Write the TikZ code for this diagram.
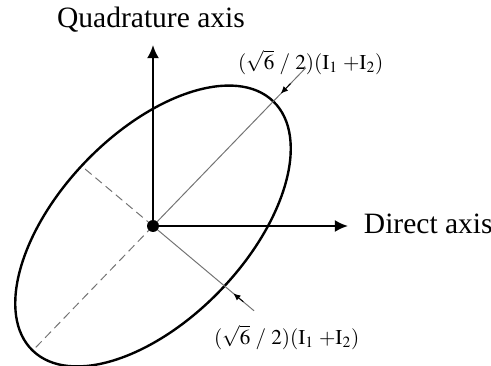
\documentclass[tikz,border=0pt]{standalone}
\usepackage{mathptmx}
\usepackage{fontspec}
\setmainfont{Liberation Serif}
\usetikzlibrary{arrows.meta}

\begin{document}
\begin{tikzpicture}[
        axis/.style={-{Latex[length=3.3mm,width=3mm]},line width=1.4pt},
        guide/.style={black!55,line width=0.7pt},
        hidden/.style={guide,dash pattern=on 6pt off 3.5pt},
        tick/.style={-{Latex[length=1.8mm,width=1.6mm]},line width=0.7pt},
        big/.style={font=\fontsize{21}{24}\selectfont},
        small/.style={font=\fontsize{15}{17}\selectfont}]
        \useasboundingbox (-3.825,-3.475) rectangle (8.45,5.65);
        \coordinate (O) at (0,0);
        \coordinate (Q) at (0,4.525);
        \coordinate (D) at (4.875,0);
        \coordinate (P1) at (46:5.5);
        \coordinate (P2) at (226:4.33);
        \coordinate (M1) at (140:2.33);
        \coordinate (M2) at (-40:3.3);
        \draw[line width=1.7pt,rotate=46] (0,0) ellipse (4.33 and 2.33);
        \draw[guide] (O) -- (P1);
        \draw[guide] (O) -- (M2);
        \draw[hidden] (O) -- (P2);
        \draw[hidden] (O) -- (M1);
        \draw[tick] (46:4.95) -- (46:4.6);
        \draw[tick] (-40:2.95) -- (-40:2.62);
        \draw[axis] (O) -- (Q);
        \draw[axis] (O) -- (D);
        \node[circle,fill=black,inner sep=0pt,minimum size=3mm] (origin) at (O) {};
        \node[big] (qlab) at (-0.05,5.15) {Quadrature axis};
        \node[big,anchor=west] (dlab) at (5.15,0.05) {Direct axis};
        \node[small] (lab1) at (3.94,4.1) {$(\sqrt{6}\ /\ 2)(\mathrm{I}_1\ {+}\mathrm{I}_2)$};
        \node[small] (lab2) at (3.34,-2.78) {$(\sqrt{6}\ /\ 2)(\mathrm{I}_1\ {+}\mathrm{I}_2)$};
    \end{tikzpicture}
\end{document}
